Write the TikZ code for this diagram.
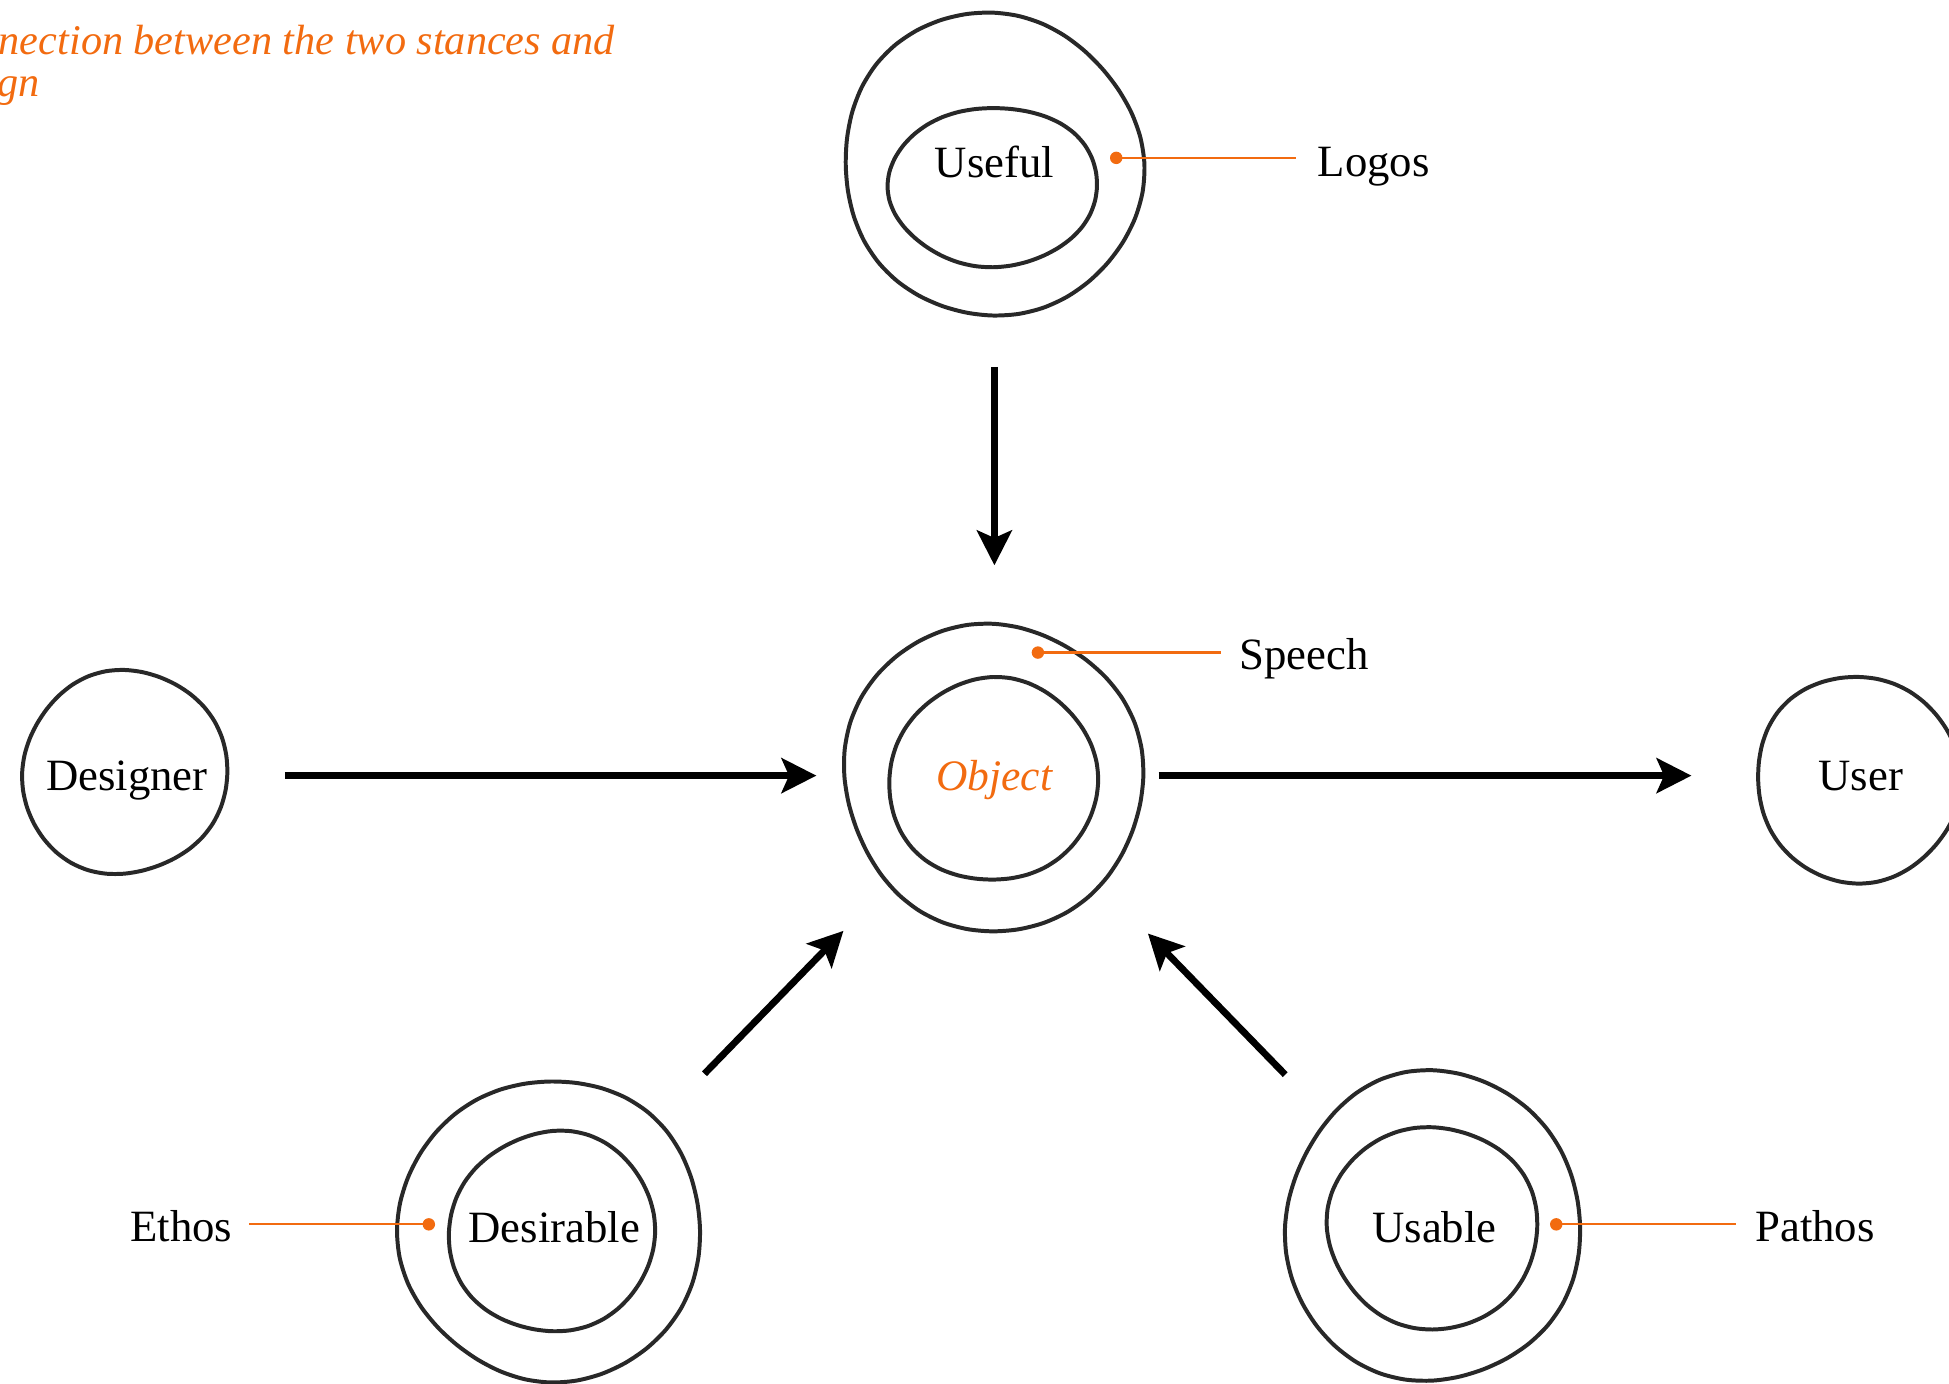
\documentclass[tikz,border=0pt]{standalone}
\usepackage{fontspec}
\setmainfont{Liberation Serif}
\usetikzlibrary{arrows.meta}

\definecolor{accent}{RGB}{242,107,16}
\definecolor{ink}{RGB}{40,40,40}

% hand-drawn looking ring: centre x, centre y, radius x, radius y, two phases
\newcommand{\ring}[6]{%
  \draw[ringline] plot[smooth cycle, variable=\ang, domain=0:350, samples=36]
    ({#1+#3*(1+0.016*sin(2*\ang+#5)+0.012*sin(3*\ang+#6)+0.006*sin(5*\ang+#5+#6))*cos(\ang)},
     {#2+#4*(1+0.016*sin(2*\ang+#5)+0.012*sin(3*\ang+#6)+0.006*sin(5*\ang+#5+#6))*sin(\ang)});}

\begin{document}
\begin{tikzpicture}[x=1pt, y=-1pt,
  ringline/.style={draw=ink, line width=3.2pt, line join=round},
  bignode/.style={circle, minimum size=240pt, inner sep=0pt,
    font=\fontsize{36}{43}\selectfont, text height=28pt, text depth=4pt},
  smallnode/.style={circle, minimum size=166pt, inner sep=0pt,
    font=\fontsize{36}{43}\selectfont, text height=28pt, text depth=4pt},
  tag/.style={inner sep=0pt, font=\fontsize{36}{43}\selectfont},
  flow/.style={line width=5.5pt, -{Stealth[length=28pt, width=28pt, inset=6pt]}},
  leader/.style={draw=accent, line width=1.8pt},
  note/.style={inner sep=0pt, text=accent, font=\fontsize{34}{40}\selectfont\itshape}
]
\useasboundingbox (0,0) rectangle (1568,1113);

% heading, partly outside the frame
\node[note, anchor=base east] (head1) at (495,44) {nection between the two stances and};
\node[note, anchor=base east] (head2) at (32,78) {gn};

% rings
\ring{798.5}{132.5}{119.5}{122.5}{20}{70}
\ring{799}{150}{83}{65}{110}{200}
\ring{799}{625}{119}{125}{40}{150}
\ring{799}{627.5}{83}{82.5}{130}{10}
\ring{100}{621.5}{83}{81.5}{200}{60}
\ring{1495}{627}{83}{82}{300}{120}
\ring{443}{990}{120}{123}{80}{250}
\ring{444.5}{991}{82.5}{81}{160}{300}
\ring{1152.5}{987}{120.5}{123}{250}{30}
\ring{1152.5}{987.5}{83.5}{82.5}{60}{180}

% main nodes
\node[bignode] (useful) at (800,131) {Useful};
\node[bignode, text=accent, font=\fontsize{35}{42}\selectfont\itshape] (object) at (800,624) {Object};
\node[smallnode] (designer) at (102,624) {Designer};
\node[smallnode] (user) at (1497,624) {User};
\node[bignode] (desirable) at (446,988) {Desirable};
\node[bignode] (usable) at (1154,988) {Usable};

% flows
\draw[flow, shorten <=44pt, shorten >=49pt] (useful) -- (object);
\draw[flow, shorten <=44pt, shorten >=23pt] (designer) -- (object);
\draw[flow, shorten <=12pt, shorten >=53pt] (object) -- (user);
\draw[flow, shorten <=53pt, shorten >=54pt] (desirable) -- (object);
\draw[flow, shorten <=52pt, shorten >=57pt] (usable) -- (object);

% annotations
\node[tag, anchor=base west] (logos) at (1060,142) {Logos};
\node[tag, anchor=base west] (speech) at (997,539) {Speech};
\node[tag, anchor=base east] (ethos) at (187,999) {Ethos};
\node[tag, anchor=base west] (pathos) at (1412,999) {Pathos};

\coordinate (logosdot) at (898,127);
\coordinate (speechdot) at (835,525);
\coordinate (ethosdot) at (345,985);
\coordinate (pathosdot) at (1252,985);

\draw[leader, shorten >=17pt] (logosdot) -- (logosdot -| logos.west);
\draw[leader, shorten >=15pt] (speechdot) -- (speechdot -| speech.west);
\draw[leader, shorten >=13pt] (ethosdot) -- (ethosdot -| ethos.east);
\draw[leader, shorten >=15pt] (pathosdot) -- (pathosdot -| pathos.west);

\foreach \d in {logosdot, speechdot, ethosdot, pathosdot}
  \fill[accent] (\d) circle (5pt);
\end{tikzpicture}
\end{document}
